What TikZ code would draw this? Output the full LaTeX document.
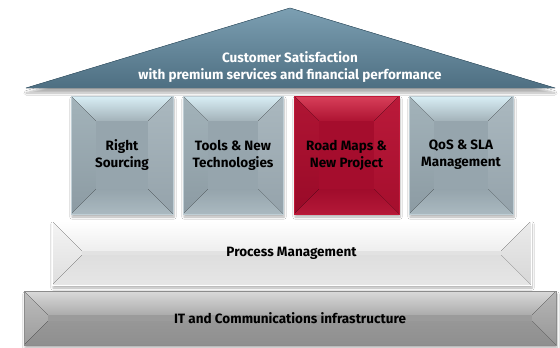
\documentclass[tikz,border=0pt]{standalone}
\usepackage{fontspec}
\setmainfont{Fira Sans}
\usetikzlibrary{shadows.blur}

% Paints a bevelled panel inside the current path picture:
% #1 bevel depth, #2/#3 top bevel (upper/lower colour), #4 left bevel fill,
% #5 right bevel fill, #6/#7 bottom bevel (upper/lower colour), #8 flat face
\newcommand\bevelpaint[8]{%
  \coordinate (bvNW) at (path picture bounding box.north west);
  \coordinate (bvNE) at (path picture bounding box.north east);
  \coordinate (bvSW) at (path picture bounding box.south west);
  \coordinate (bvSE) at (path picture bounding box.south east);
  \coordinate (bvnw) at ([shift={(#1,-#1)}]bvNW);
  \coordinate (bvne) at ([shift={(-#1,-#1)}]bvNE);
  \coordinate (bvsw) at ([shift={(#1,#1)}]bvSW);
  \coordinate (bvse) at ([shift={(-#1,#1)}]bvSE);
  \fill[#8] (bvNW) rectangle (bvSE);
  \fill[top color=#2, bottom color=#3] (bvNW) -- (bvNE) -- (bvne) -- (bvnw) -- cycle;
  \fill[#4] (bvNW) -- (bvnw) -- (bvsw) -- (bvSW) -- cycle;
  \fill[#5] (bvNE) -- (bvne) -- (bvse) -- (bvSE) -- cycle;
  \fill[top color=#6, bottom color=#7] (bvSW) -- (bvsw) -- (bvse) -- (bvSE) -- cycle;
  \fill[#8] (bvnw) rectangle (bvse);
}

\definecolor{roofTop}{HTML}{7C9FB2}
\definecolor{roofMid}{HTML}{557689}
\definecolor{roofLow}{HTML}{4E6F82}
\definecolor{roofEdge}{HTML}{3F5F72}
% grey pillars
\definecolor{gpTopA}{HTML}{D9EFF6}
\definecolor{gpTopB}{HTML}{A3B2B9}
\definecolor{gpLeftA}{HTML}{A3B3BA}
\definecolor{gpLeftB}{HTML}{8C9BA3}
\definecolor{gpRightA}{HTML}{AAB8BF}
\definecolor{gpRightB}{HTML}{95A3AB}
\definecolor{gpBotA}{HTML}{95A4AC}
\definecolor{gpBotB}{HTML}{AAB9C0}
\definecolor{gpFace}{HTML}{96A5AD}
\definecolor{gpEdge}{HTML}{BFCED5}
% red pillar
\definecolor{rpTopA}{HTML}{D8405A}
\definecolor{rpTopB}{HTML}{AE1332}
\definecolor{rpLeftA}{HTML}{B01534}
\definecolor{rpLeftB}{HTML}{990A28}
\definecolor{rpRightA}{HTML}{BA1A3A}
\definecolor{rpRightB}{HTML}{A50E2D}
\definecolor{rpBotA}{HTML}{A00C2B}
\definecolor{rpBotB}{HTML}{B41838}
\definecolor{rpFace}{HTML}{A50D2D}
\definecolor{rpEdge}{HTML}{C01838}
% process floor
\definecolor{pfTopB}{HTML}{EEEEEE}
\definecolor{pfLeftA}{HTML}{F4F4F4}
\definecolor{pfLeftB}{HTML}{DEDEDE}
\definecolor{pfRightA}{HTML}{EBEBEB}
\definecolor{pfRightB}{HTML}{D7D7D7}
\definecolor{pfBotA}{HTML}{DEDEDE}
\definecolor{pfBotB}{HTML}{E6E6E6}
\definecolor{pfFace}{HTML}{E2E2E2}
% infrastructure base
\definecolor{itTopA}{HTML}{DADADA}
\definecolor{itTopB}{HTML}{ABABAB}
\definecolor{itLeftA}{HTML}{BDBDBD}
\definecolor{itLeftB}{HTML}{9C9C9C}
\definecolor{itRightA}{HTML}{B6B6B6}
\definecolor{itRightB}{HTML}{979797}
\definecolor{itBotA}{HTML}{979797}
\definecolor{itBotB}{HTML}{8F8F8F}
\definecolor{itFace}{HTML}{9B9B9B}
\definecolor{itEdge}{HTML}{8C8C8C}

\tikzset{
  labelfont/.style={font=\fontsize{13.5}{17}\selectfont\bfseries},
  panel/.style={rectangle, inner sep=0pt, align=center, labelfont,
    blur shadow={shadow xshift=1pt, shadow yshift=-3pt, shadow blur steps=6, shadow opacity=30}},
  pillarbox/.style={panel, minimum height=118pt, draw=gpEdge, line width=0.4pt,
    path picture={\bevelpaint{25pt}{gpTopA}{gpTopB}{top color=gpLeftA, bottom color=gpLeftB}{top color=gpRightA, bottom color=gpRightB}{gpBotA}{gpBotB}{gpFace}}},
  redbox/.style={panel, minimum height=118pt, draw=rpEdge, line width=0.4pt,
    path picture={\bevelpaint{25pt}{rpTopA}{rpTopB}{top color=rpLeftA, bottom color=rpLeftB}{top color=rpRightA, bottom color=rpRightB}{rpBotA}{rpBotB}{rpFace}}},
  processbox/.style={panel, draw=white, line width=0.8pt,
    path picture={\bevelpaint{30pt}{white}{pfTopB}{top color=pfLeftA, bottom color=pfLeftB}{top color=pfRightA, bottom color=pfRightB}{pfBotA}{pfBotB}{pfFace}}},
  itbox/.style={panel, draw=itEdge, line width=0.5pt,
    path picture={\bevelpaint{24pt}{itTopA}{itTopB}{top color=itLeftA, bottom color=itLeftB}{top color=itRightA, bottom color=itRightB}{itBotA}{itBotB}{itFace}}},
  rooftext/.style={align=center, labelfont, text=white},
}

\begin{document}
\begin{tikzpicture}[x=1pt, y=-1pt]
  \fill[white] (0,0) rectangle (560,348);
  \useasboundingbox (0,0) rectangle (560,348);

  % foundation and floor
  \node[itbox, minimum width=532pt, minimum height=54pt] (infra) at (290,318) {IT and Communications infrastructure};
  \node[processbox, minimum width=479pt, minimum height=64pt] (process) at (291.5,253) {Process Management};

  % pillars
  \node[pillarbox, minimum width=102pt] (sourcing) at (122,155) {Right\\Sourcing};
  \node[pillarbox, minimum width=100pt] (tools) at (233,155) {Tools \& New\\Technologies};
  \node[redbox, minimum width=105pt] (roadmaps) at (346.5,155) {Road Maps \&\\New Project};
  \node[pillarbox, minimum width=104pt] (qos) at (461,155) {QoS \& SLA\\Management};

  % roof
  \coordinate (peak) at (290,8);
  \coordinate (eaveL) at (26,88);
  \coordinate (eaveR) at (555,88);
  \fill[top color=roofTop, middle color=roofMid, bottom color=roofLow,
        blur shadow={shadow xshift=0pt, shadow yshift=-5pt, shadow blur steps=8, shadow opacity=30}]
    (peak) -- (eaveR) -- (eaveL) -- cycle;
  \draw[roofEdge, line width=0.5pt, line join=round] (eaveL) -- (peak) -- (eaveR);
  \node[rooftext] (mission) at (290,67) {Customer Satisfaction\\with premium services and financial performance};
\end{tikzpicture}
\end{document}
